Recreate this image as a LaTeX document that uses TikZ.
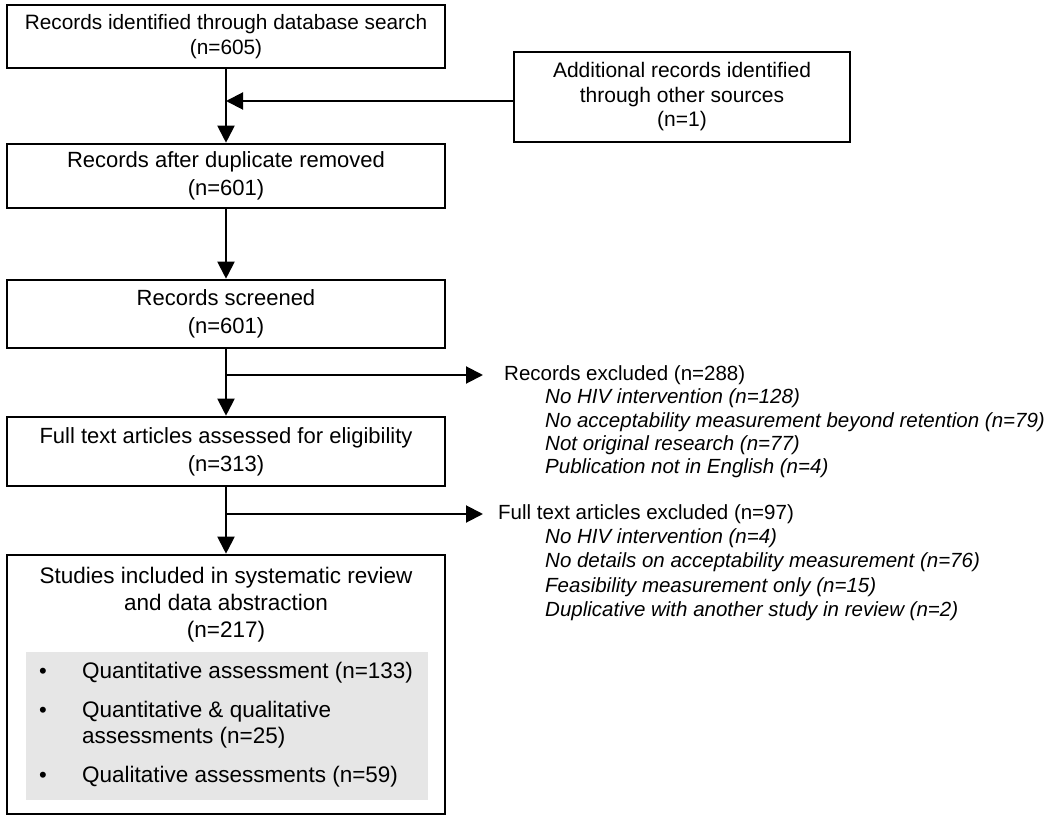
\documentclass[tikz,border=0pt]{standalone}
\usepackage{fontspec}
\setmainfont{Liberation Sans}
\usetikzlibrary{arrows.meta}
\definecolor{greybg}{RGB}{230,230,230}
\tikzset{
  box/.style={draw=black, line width=2.6pt, align=center, inner sep=0pt,
    font=\fontsize{22}{28}\selectfont},
  conn/.style={line width=2pt, -{Triangle[length=17pt,width=17pt]}},
  rtext/.style={anchor=west, inner sep=0pt, font=\fontsize{20.5}{23.5}\selectfont},
  itext/.style={rtext, font=\fontsize{20.5}{23.5}\selectfont\itshape},
  btext/.style={anchor=west, inner sep=0pt, align=left, font=\fontsize{22.5}{26}\selectfont},
  bullet/.style={inner sep=0pt, font=\fontsize{22}{26}\selectfont}
}
\begin{document}
\begin{tikzpicture}[x=1pt,y=-1pt]
\useasboundingbox (0,0) rectangle (1050,821);
% boxes
\node[box, minimum width=438pt, minimum height=63pt, font=\fontsize{20.8}{25}\selectfont] (b1) at (226,36.5)
  {Records identified through database search\\(n=605)};
\node[box, minimum width=336pt, minimum height=90pt, font=\fontsize{21}{24.5}\selectfont] (b2) at (682,97)
  {Additional records identified\\through other sources\\(n=1)};
\node[box, minimum width=438pt, minimum height=64pt] (b3) at (226,176)
  {Records after duplicate removed\\(n=601)};
\node[box, minimum width=438pt, minimum height=68pt] (b4) at (226,314)
  {Records screened\\(n=601)};
\node[box, minimum width=438pt, minimum height=69pt] (b5) at (226,451.5)
  {Full text articles assessed for eligibility\\(n=313)};
\node[box, minimum width=438pt, minimum height=259pt] (b6) at (226,684.5) {};
\node[fill=greybg, inner sep=0pt, minimum width=402pt, minimum height=148pt] (grey) at (227,726) {};
\node[align=center, inner sep=0pt, font=\fontsize{22.5}{27}\selectfont] (t6) at (226,605)
  {Studies included in systematic review\\and data abstraction\\(n=217)};
% bullets
\node[bullet] (d1) at (43,673) {•};
\node[bullet] (d2) at (43,712) {•};
\node[bullet] (d3) at (43,777) {•};
\node[btext] (q1) at (82,673) {Quantitative assessment (n=133)};
\node[btext] (q2) at (82,725) {Quantitative \& qualitative\\assessments (n=25)};
\node[btext] (q3) at (82,777) {Qualitative assessments (n=59)};
% right side texts
\node[rtext] (ex1) at (504,375) {Records excluded (n=288)};
\node[itext] (ex1a) at (545,398.5) {No HIV intervention (n=128)};
\node[itext] (ex1b) at (545,422) {No acceptability measurement beyond retention (n=79)};
\node[itext] (ex1c) at (545,445) {Not original research (n=77)};
\node[itext] (ex1d) at (545,468) {Publication not in English (n=4)};
\node[rtext] (ex2) at (498,514) {Full text articles excluded (n=97)};
\node[itext] (ex2a) at (545,538) {No HIV intervention (n=4)};
\node[itext] (ex2b) at (545,562) {No details on acceptability measurement (n=76)};
\node[itext] (ex2c) at (545,587) {Feasibility measurement only (n=15)};
\node[itext] (ex2d) at (545,611) {Duplicative with another study in review (n=2)};
% connectors
\coordinate (m1) at (226,101);
\coordinate (j1) at (226,375);
\coordinate (j2) at (226,514);
\draw[conn] (b1.south) -- (b3.north);
\draw[conn] (b2.west |- m1) -- (m1);
\draw[conn] (b3.south) -- (b4.north);
\draw[conn] (b4.south) -- (b5.north);
\draw[conn] (b5.south) -- (b6.north);
\draw[conn] (j1) -- ([xshift=-21pt]ex1.west);
\draw[conn] (j2) -- ([xshift=-15pt]ex2.west);
\end{tikzpicture}
\end{document}
